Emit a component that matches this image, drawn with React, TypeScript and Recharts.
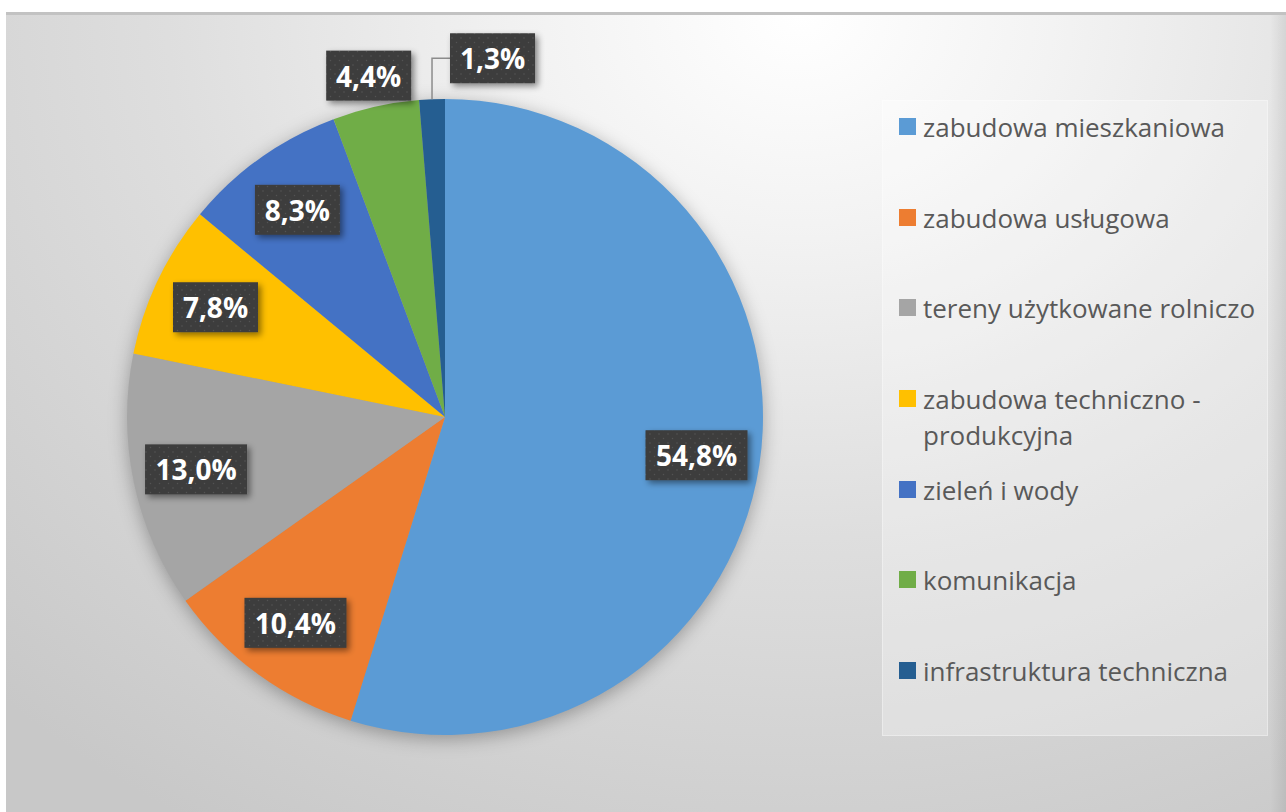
import { Cell, Legend, Pie, PieChart } from "recharts";

const categories = [
  "zabudowa mieszkaniowa",
  "zabudowa usługowa",
  "tereny użytkowane rolniczo",
  "zabudowa techniczno - produkcyjna",
  "zieleń i wody",
  "komunikacja",
  "infrastruktura techniczna",
];
const shares = [54.8, 10.4, 13.0, 7.8, 8.3, 4.4, 1.3];
const colors = ["#5B9BD5", "#ED7D31", "#A5A5A5", "#FFC000", "#4472C4", "#70AD47", "#255E91"];

const data = categories.map((name, i) => ({ name, value: shares[i] }));

const RAD = Math.PI / 180;
const fmt = (v: number) => v.toFixed(1).replace(".", ",") + "%";

function renderLabel(props: any) {
  const { cx, cy, midAngle, outerRadius, value, index } = props;
  const text = fmt(value);
  const w = text.length * 17 + 17;
  const h = 50;
  const cos = Math.cos(-midAngle * RAD);
  const sin = Math.sin(-midAngle * RAD);
  let bx: number;
  let by: number;
  let leader = null;
  if (value < 2) {
    // tiny slice: label pushed up-right with a leader line
    const ax = cx + outerRadius * cos;
    const ay = cy + outerRadius * sin;
    const ky = ay - 41;
    const kx = ax + 18;
    leader = (
      <polyline
        points={`${ax},${ay} ${ax},${ky} ${kx},${ky}`}
        fill="none"
        stroke="#8c8c8c"
        strokeWidth={1.5}
      />
    );
    bx = kx + w / 2;
    by = ky;
  } else {
    const r = value < 5 ? outerRadius * 1.1 : outerRadius * 0.8;
    bx = cx + r * cos;
    by = cy + r * sin;
  }
  const pid = `dots-${index}`;
  const fid = `shadow-${index}`;
  return (
    <g key={`lbl-${index}`}>
      <defs>
        <pattern id={pid} width={9} height={9} patternUnits="userSpaceOnUse">
          <rect width={9} height={9} fill="#3c3c3c" />
          <circle cx={2} cy={2} r={0.8} fill="#525252" />
          <circle cx={6.5} cy={6.5} r={0.8} fill="#525252" />
        </pattern>
        <filter id={fid} x="-20%" y="-30%" width="150%" height="170%">
          <feDropShadow dx={3} dy={3} stdDeviation={3} floodColor="#000" floodOpacity={0.45} />
        </filter>
      </defs>
      {leader}
      <rect x={bx - w / 2} y={by - h / 2} width={w} height={h} fill={`url(#${pid})`} filter={`url(#${fid})`} />
      <text
        x={bx}
        y={by}
        textAnchor="middle"
        dominantBaseline="central"
        fill="#ffffff"
        fontFamily="'Open Sans', sans-serif"
        fontWeight={700}
        fontSize={28}
      >
        {text}
      </text>
    </g>
  );
}

function LegendBox(props: any) {
  const items = [...(props.payload || [])].sort(
    (a: any, b: any) => categories.indexOf(a.value) - categories.indexOf(b.value)
  );
  return (
    <div
      style={{
        width: 386,
        height: 636,
        boxSizing: "border-box",
        background: "rgba(255,255,255,0.28)",
        border: "1px solid rgba(255,255,255,0.35)",
        paddingTop: 8,
        fontFamily: "'Open Sans', sans-serif",
      }}
    >
      {items.map((it: any) => (
        <div key={it.value} style={{ height: 90.7, display: "flex", alignItems: "flex-start" }}>
          <span
            style={{
              width: 17,
              height: 17,
              background: it.color,
              marginLeft: 16,
              marginRight: 7,
              marginTop: 9,
              flex: "none",
            }}
          />
          <span style={{ fontSize: 26, lineHeight: "36px", color: "#595959", width: 345 }}>{it.value}</span>
        </div>
      ))}
    </div>
  );
}

export default function App() {
  return (
    <div style={{ position: "absolute", left: 0, top: 0, width: 1286, height: 812, background: "#fff" }}>
      <style>{`.recharts-pie { filter: drop-shadow(0px 4px 9px rgba(0,0,0,0.30)); }`}</style>
      <div
        style={{
          position: "absolute",
          left: 6,
          top: 12,
          width: 1280,
          height: 800,
          boxSizing: "border-box",
          borderTop: "3px solid #c2c2c2",
          background:
            "radial-gradient(ellipse 1150px 950px at 62% 0%, #ffffff 0%, #f3f3f3 22%, #dedede 55%, #c8c8c8 100%)",
        }}
      >
        <div
          style={{
            position: "absolute",
            right: 0,
            top: 0,
            width: 16,
            height: "100%",
            background: "linear-gradient(to right, rgba(0,0,0,0), rgba(0,0,0,0.08))",
          }}
        />
      </div>
      <div style={{ position: "absolute", left: 0, top: 0 }}>
        <PieChart width={1286} height={812} margin={{ top: 0, right: 0, bottom: 0, left: 0 }}>
          <Pie
            data={data}
            dataKey="value"
            nameKey="name"
            cx={445}
            cy={417}
            outerRadius={318}
            startAngle={90}
            endAngle={-270}
            stroke="none"
            label={renderLabel}
            labelLine={false}
            isAnimationActive={false}
          >
            {data.map((d, i) => (
              <Cell key={d.name} fill={colors[i]} />
            ))}
          </Pie>
          <Legend
            layout="vertical"
            align="right"
            verticalAlign="middle"
            content={LegendBox}
            wrapperStyle={{ left: 882, top: 100, width: 386, height: 636 }}
          />
        </PieChart>
      </div>
    </div>
  );
}
